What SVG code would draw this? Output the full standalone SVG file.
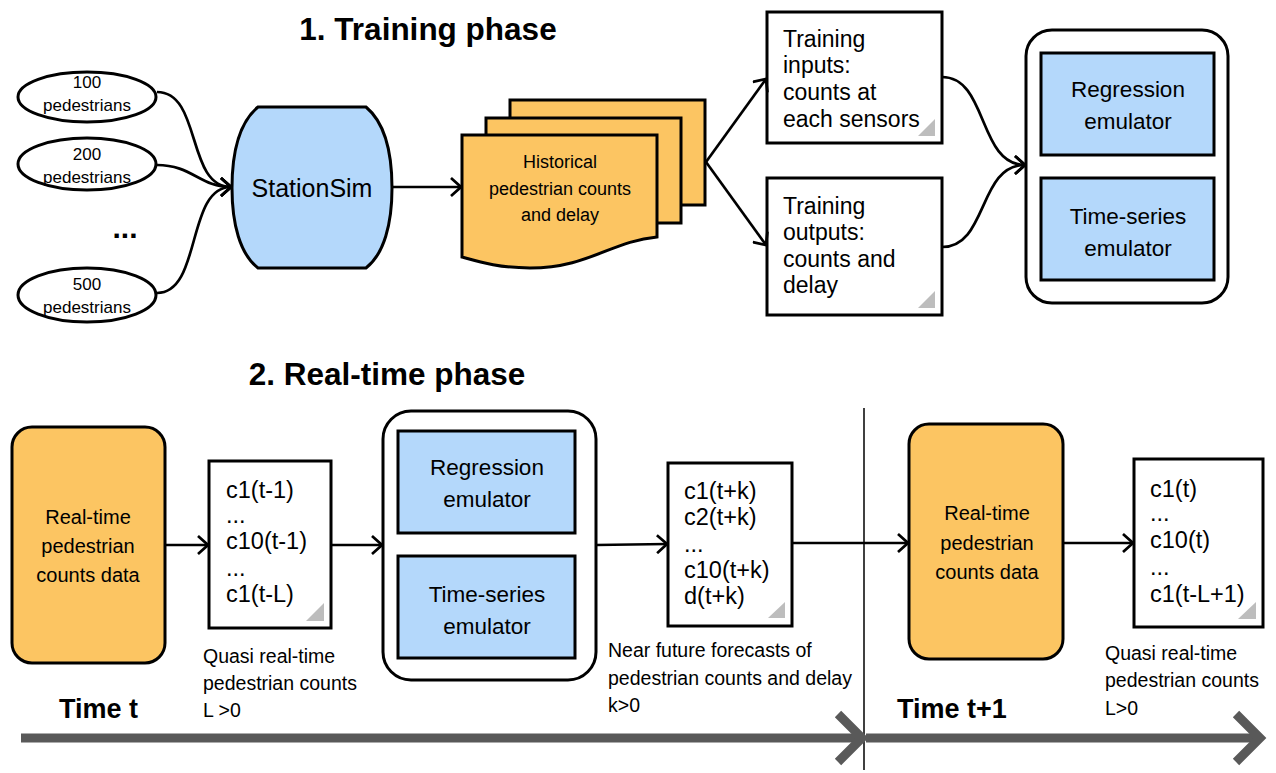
<svg xmlns="http://www.w3.org/2000/svg" width="1276" height="773" viewBox="0 0 1276 773">
<style>
text{font-family:"Liberation Sans",Arial,sans-serif;fill:#000}
.title{font-weight:bold;font-size:31.5px}
.time{font-weight:bold;font-size:27px}
.node{stroke:#000;stroke-width:3}
.blue{fill:#b4d8fb}
.orange{fill:#fcc562}
.white{fill:#fff}
.ell{font-size:17px;text-anchor:middle}
.lbl{text-anchor:middle}
.box{font-size:23px}
.cbox{font-size:23.5px}
.cap{font-size:19.5px}
.corner{fill:#bdbdbd}
.conn{fill:none;stroke:#000;stroke-width:2.7}
.tl{fill:none;stroke:#595959;stroke-width:9}
</style>
<defs>
<marker id="arr" viewBox="0 0 12 20" refX="11" refY="10" markerWidth="12" markerHeight="20" markerUnits="userSpaceOnUse" orient="auto">
<path d="M1,1 L11,10 L1,19" fill="none" stroke="#000" stroke-width="2.7"/>
</marker>
</defs>
<rect width="1276" height="773" fill="#fff"/>
<text class="title" x="428" y="40" text-anchor="middle">1. Training phase</text>
<text class="title" x="387" y="385" text-anchor="middle">2. Real-time phase</text>

<g id="e100">
<ellipse class="node white" cx="87" cy="97" rx="69" ry="25"/>
<text class="ell" x="87" y="88" font-size="18">100</text>
<text class="ell" x="87" y="111">pedestrians</text>
</g>
<g id="e200">
<ellipse class="node white" cx="87" cy="164" rx="69" ry="26"/>
<text class="ell" x="87" y="160" font-size="18">200</text>
<text class="ell" x="87" y="183">pedestrians</text>
</g>
<text x="125" y="238" font-size="30" font-weight="bold" text-anchor="middle">...</text>
<g id="e500">
<ellipse class="node white" cx="87" cy="295" rx="69" ry="27"/>
<text class="ell" x="87" y="290" font-size="18">500</text>
<text class="ell" x="87" y="313">pedestrians</text>
</g>

<g id="stationsim">
<path class="node blue" d="M258,107 H366 C384,122 392,152 392,188 C392,224 384,254 366,268 H258 C240,254 232,224 232,188 C232,152 240,122 258,107 Z"/>
<text class="lbl" x="312" y="197" font-size="25">StationSim</text>
</g>

<g id="historical">
<rect class="node orange" x="510" y="100" width="195" height="105"/>
<rect class="node orange" x="486" y="118" width="195" height="105"/>
<path class="node orange" d="M462,135 H657 V237 C612,241 588,268 530,268 C500,268 480,262 462,257 Z"/>
<text class="lbl" x="560" y="168" font-size="18">Historical</text>
<text class="lbl" x="560" y="195" font-size="18">pedestrian counts</text>
<text class="lbl" x="560" y="221" font-size="18">and delay</text>
</g>

<g id="train-inputs">
<rect class="node white" x="767" y="12" width="175" height="131"/>
<polygon class="corner" points="918,136 935,136 935,119"/>
<text class="box" x="783" y="47">Training</text>
<text class="box" x="783" y="73">inputs:</text>
<text class="box" x="783" y="100">counts at</text>
<text class="box" x="783" y="127">each sensors</text>
</g>
<g id="train-outputs">
<rect class="node white" x="767" y="178" width="175" height="137"/>
<polygon class="corner" points="918,308 935,308 935,291"/>
<text class="box" x="783" y="214">Training</text>
<text class="box" x="783" y="240">outputs:</text>
<text class="box" x="783" y="267">counts and</text>
<text class="box" x="783" y="293">delay</text>
</g>

<g id="emulators-train">
<rect class="node white" x="1026" y="30" width="202" height="273" rx="26"/>
<rect class="node blue" x="1041" y="53" width="173" height="102"/>
<text class="lbl" x="1128" y="97" font-size="22.5">Regression</text>
<text class="lbl" x="1128" y="129" font-size="22.5">emulator</text>
<rect class="node blue" x="1041" y="178" width="173" height="102"/>
<text class="lbl" x="1128" y="224" font-size="22.5">Time-series</text>
<text class="lbl" x="1128" y="256" font-size="22.5">emulator</text>
</g>

<g id="rt1">
<rect class="node orange" x="12" y="427" width="153" height="236" rx="20"/>
<text class="lbl" x="88" y="524" font-size="20">Real-time</text>
<text class="lbl" x="88" y="553" font-size="20">pedestrian</text>
<text class="lbl" x="88" y="582" font-size="20">counts data</text>
</g>
<g id="c-t">
<rect class="node white" x="209" y="461" width="122" height="167"/>
<polygon class="corner" points="306,621 324,621 324,603"/>
<text class="cbox" x="226" y="498">c1(t-1)</text>
<text class="cbox" x="226" y="523">...</text>
<text class="cbox" x="226" y="549">c10(t-1)</text>
<text class="cbox" x="226" y="576">...</text>
<text class="cbox" x="226" y="602">c1(t-L)</text>
</g>
<text class="cap" x="203" y="663">Quasi real-time</text>
<text class="cap" x="203" y="690">pedestrian counts</text>
<text class="cap" x="203" y="717">L &gt;0</text>
<text class="time" x="59" y="718">Time t</text>

<g id="emulators-rt">
<rect class="node white" x="383" y="411" width="213" height="269" rx="28"/>
<rect class="node blue" x="398" y="431" width="177" height="102"/>
<text class="lbl" x="487" y="475" font-size="22.5">Regression</text>
<text class="lbl" x="487" y="507" font-size="22.5">emulator</text>
<rect class="node blue" x="398" y="556" width="177" height="102"/>
<text class="lbl" x="487" y="602" font-size="22.5">Time-series</text>
<text class="lbl" x="487" y="634" font-size="22.5">emulator</text>
</g>

<g id="forecast">
<rect class="node white" x="668" y="463" width="124" height="163"/>
<polygon class="corner" points="768,618 785,618 785,602"/>
<text class="cbox" x="684" y="499">c1(t+k)</text>
<text class="cbox" x="684" y="525">c2(t+k)</text>
<text class="cbox" x="684" y="552">...</text>
<text class="cbox" x="684" y="578">c10(t+k)</text>
<text class="cbox" x="684" y="604">d(t+k)</text>
</g>
<text class="cap" x="608" y="657">Near future forecasts of</text>
<text class="cap" x="608" y="685">pedestrian counts and delay</text>
<text class="cap" x="608" y="712">k&gt;0</text>

<g id="rt2">
<rect class="node orange" x="909" y="424" width="154" height="235" rx="20"/>
<text class="lbl" x="987" y="520" font-size="20">Real-time</text>
<text class="lbl" x="987" y="550" font-size="20">pedestrian</text>
<text class="lbl" x="987" y="579" font-size="20">counts data</text>
</g>
<g id="c-t1">
<rect class="node white" x="1134" y="459" width="129" height="168"/>
<polygon class="corner" points="1238,619 1256,619 1256,602"/>
<text class="cbox" x="1150" y="497">c1(t)</text>
<text class="cbox" x="1150" y="521">...</text>
<text class="cbox" x="1150" y="548">c10(t)</text>
<text class="cbox" x="1150" y="575">...</text>
<text class="cbox" x="1150" y="602">c1(t-L+1)</text>
</g>
<text class="cap" x="1105" y="660">Quasi real-time</text>
<text class="cap" x="1105" y="687">pedestrian counts</text>
<text class="cap" x="1105" y="715">L&gt;0</text>
<text class="time" x="897" y="718">Time t+1</text>

<g id="connectors">
<path class="conn" marker-end="url(#arr)" d="M157,92 C202,92 186,187 231,187"/>
<path class="conn" marker-end="url(#arr)" d="M157,165 C192,165 200,187 231,187"/>
<path class="conn" marker-end="url(#arr)" d="M157,293 C202,293 186,187 231,187"/>
<path class="conn" marker-end="url(#arr)" d="M392,187 L461,187"/>
<path class="conn" marker-end="url(#arr)" d="M706,162 L766,79"/>
<path class="conn" marker-end="url(#arr)" d="M706,162 L766,245"/>
<path class="conn" marker-end="url(#arr)" d="M942,77 C988,77 978,165 1025,165"/>
<path class="conn" marker-end="url(#arr)" d="M942,247 C988,247 978,165 1025,165"/>
<path class="conn" marker-end="url(#arr)" d="M165,545 L208,545"/>
<path class="conn" marker-end="url(#arr)" d="M331,545 L382,545"/>
<path class="conn" marker-end="url(#arr)" d="M596,545 L667,544"/>
<path class="conn" marker-end="url(#arr)" d="M792,543 L908,543"/>
<path class="conn" marker-end="url(#arr)" d="M1063,543 L1133,543"/>
<line x1="864" y1="408" x2="864" y2="770" stroke="#000" stroke-width="1.5"/>
<path class="tl" d="M21,738 H862"/>
<path class="tl" d="M838,714 L862,738 L838,762"/>
<path class="tl" d="M866,738 H1260"/>
<path class="tl" d="M1236,714 L1260,738 L1236,762"/>
</g>
</svg>
